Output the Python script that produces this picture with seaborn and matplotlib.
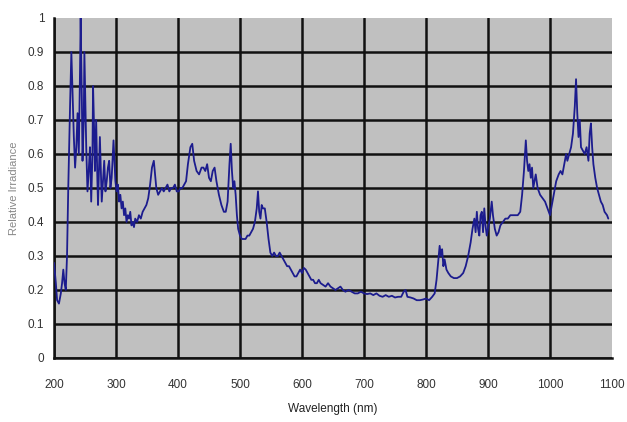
import pandas as pd
import matplotlib
matplotlib.use("Agg")
import matplotlib.pyplot as plt
import seaborn as sns

# Datos (longitud de onda en nm, irradiancia relativa)
wavelength = [
    200, 203, 205, 208, 211, 213, 215, 217, 219, 221, 223, 226, 228, 230, 232, 234,
    236, 238, 240, 242, 243, 245, 246, 248, 249, 251, 252, 254, 256, 258, 260, 262,
    263, 265, 266, 268, 270, 271, 273, 274, 276, 277, 279, 281, 283, 285, 287, 289,
    291, 293, 295, 296, 298, 299, 301, 303, 305, 307, 309, 311, 313, 315, 317, 319,
    321, 323, 325, 327, 329, 331, 334, 337, 340, 343, 346, 349, 352, 355, 358, 361,
    363, 365, 368, 371, 374, 377, 380, 383, 386, 389, 392, 395, 398, 401, 404, 407,
    410, 413, 416, 420, 423, 426, 430, 434, 438, 441, 444, 447, 450, 453, 456, 459,
    462, 466, 470, 474, 477, 480, 483, 485, 487, 489, 491, 493, 495, 497, 500, 503,
    506, 509, 512, 515, 518, 521, 524, 527, 529, 531, 533, 535, 537, 540, 543, 546,
    549, 552, 555, 558, 561, 564, 567, 570, 573, 576, 579, 582, 585, 588, 591, 594,
    597, 600, 603, 606, 609, 612, 615, 618, 621, 624, 627, 630, 634, 638, 642, 646,
    650, 654, 658, 662, 666, 670, 675, 680, 685, 690, 695, 700, 705, 710, 715, 720,
    725, 730, 735, 740, 745, 750, 755, 760, 764, 767, 770, 775, 780, 785, 790, 795,
    800, 805, 810, 814, 817, 820, 822, 824, 826, 828, 830, 833, 836, 840, 845, 850,
    855, 860, 864, 868, 872, 875, 878, 880, 882, 884, 886, 888, 890, 892, 894, 896,
    898, 900, 903, 906, 908, 911, 914, 917, 920, 924, 928, 932, 936, 940, 944, 948,
    952, 955, 958, 961, 963, 965, 967, 969, 971, 973, 975, 977, 980, 984, 988, 992,
    996, 1000, 1003, 1006, 1010, 1014, 1017, 1020, 1023, 1026, 1028, 1031, 1034, 1037, 1040, 1042,
    1044, 1046, 1048, 1050, 1053, 1056, 1059, 1062, 1064, 1066, 1068, 1070, 1073, 1076, 1079, 1082,
    1085, 1088, 1092, 1094,
]
irradiance = [
    0.28, 0.22, 0.17, 0.16, 0.19, 0.22, 0.26, 0.22, 0.20, 0.30, 0.50, 0.75, 0.90, 0.78, 0.65, 0.56,
    0.62, 0.72, 0.60, 0.85, 1.00, 0.75, 0.58, 0.70, 0.90, 0.72, 0.62, 0.49, 0.55, 0.62, 0.46, 0.60,
    0.80, 0.65, 0.55, 0.70, 0.52, 0.45, 0.58, 0.65, 0.52, 0.46, 0.52, 0.58, 0.49, 0.52, 0.56, 0.58,
    0.50, 0.53, 0.60, 0.64, 0.56, 0.52, 0.49, 0.51, 0.46, 0.48, 0.44, 0.46, 0.42, 0.44, 0.40, 0.42,
    0.41, 0.43, 0.39, 0.40, 0.385, 0.41, 0.40, 0.42, 0.41, 0.43, 0.44, 0.45, 0.47, 0.51, 0.56, 0.58,
    0.54, 0.50, 0.48, 0.49, 0.50, 0.49, 0.50, 0.51, 0.49, 0.50, 0.50, 0.51, 0.49, 0.49, 0.50, 0.50,
    0.51, 0.52, 0.57, 0.62, 0.63, 0.58, 0.55, 0.54, 0.56, 0.56, 0.55, 0.57, 0.53, 0.52, 0.55, 0.56,
    0.52, 0.48, 0.45, 0.43, 0.43, 0.46, 0.57, 0.63, 0.55, 0.50, 0.52, 0.48, 0.42, 0.38, 0.36, 0.35,
    0.35, 0.35, 0.36, 0.36, 0.37, 0.38, 0.40, 0.44, 0.49, 0.43, 0.41, 0.45, 0.44, 0.44, 0.40, 0.35,
    0.31, 0.30, 0.31, 0.30, 0.30, 0.31, 0.30, 0.29, 0.28, 0.27, 0.27, 0.26, 0.25, 0.24, 0.24, 0.25,
    0.26, 0.25, 0.265, 0.26, 0.25, 0.24, 0.23, 0.23, 0.22, 0.22, 0.23, 0.22, 0.215, 0.21, 0.22, 0.21,
    0.205, 0.20, 0.205, 0.21, 0.20, 0.195, 0.20, 0.195, 0.19, 0.19, 0.195, 0.19, 0.188, 0.19, 0.185, 0.19,
    0.183, 0.18, 0.185, 0.18, 0.183, 0.178, 0.18, 0.18, 0.195, 0.20, 0.18, 0.178, 0.175, 0.17, 0.17, 0.172,
    0.175, 0.17, 0.18, 0.19, 0.23, 0.29, 0.33, 0.30, 0.32, 0.27, 0.29, 0.26, 0.25, 0.24, 0.235, 0.235,
    0.24, 0.25, 0.27, 0.30, 0.34, 0.38, 0.41, 0.37, 0.43, 0.38, 0.36, 0.42, 0.43, 0.37, 0.44, 0.39,
    0.36, 0.38, 0.41, 0.46, 0.42, 0.38, 0.36, 0.37, 0.39, 0.40, 0.41, 0.41, 0.42, 0.42, 0.42, 0.42,
    0.43, 0.48, 0.55, 0.64, 0.58, 0.55, 0.57, 0.53, 0.56, 0.50, 0.52, 0.54, 0.50, 0.48, 0.47, 0.46,
    0.44, 0.42, 0.45, 0.48, 0.52, 0.54, 0.55, 0.54, 0.57, 0.60, 0.58, 0.60, 0.62, 0.66, 0.74, 0.82,
    0.72, 0.65, 0.70, 0.62, 0.61, 0.60, 0.62, 0.58, 0.66, 0.69, 0.62, 0.57, 0.53, 0.50, 0.48, 0.46,
    0.45, 0.43, 0.42, 0.41,
]
x_ticks = [200, 300, 400, 500, 600, 700, 800, 900, 1000, 1100]
y_ticks = [0, 0.1, 0.2, 0.3, 0.4, 0.5, 0.6, 0.7, 0.8, 0.9, 1]
y_tick_labels = ["0", "0.1", "0.2", "0.3", "0.4", "0.5", "0.6", "0.7", "0.8", "0.9", "1"]

datos = pd.DataFrame({"wavelength": wavelength, "irradiance": irradiance})

sns.set_style("white")
plt.rcParams["font.family"] = ["Liberation Sans", "DejaVu Sans"]

fig = plt.figure(figsize=(6.27, 4.22), dpi=100)
ax = fig.add_axes([54 / 627, 64 / 422, 558 / 627, 340 / 422])
ax.set_facecolor("#c0c0c0")

sns.lineplot(data=datos, x="wavelength", y="irradiance", estimator=None,
             color="#1c1c8e", linewidth=1.3, ax=ax, zorder=3)

ax.set_xlim(200, 1100)
ax.set_ylim(0, 1)
ax.set_xticks(x_ticks)
ax.set_yticks(y_ticks)
ax.set_yticklabels(y_tick_labels)
ax.grid(True, color="#111111", linewidth=1.8, zorder=1)
ax.set_axisbelow(True)
# sin linea de cuadricula en el borde superior ni en el derecho
ax.get_ygridlines()[-1].set_visible(False)
ax.get_xgridlines()[-1].set_visible(False)

for lado in ["top", "right"]:
    ax.spines[lado].set_visible(False)
for lado in ["left", "bottom"]:
    ax.spines[lado].set_color("#111111")
    ax.spines[lado].set_linewidth(1.8)

ax.tick_params(axis="both", direction="out", length=4, width=1.4, color="#111111",
               labelsize=8.5, labelcolor="#333333", pad=3)
ax.tick_params(axis="x", pad=11)

ax.set_xlabel("Wavelength (nm)", fontsize=8.5, color="#222222", labelpad=9)
ax.set_ylabel("Relative Irradiance", fontsize=8, color="#888888", labelpad=6)

plt.savefig("out.png", dpi=100)
